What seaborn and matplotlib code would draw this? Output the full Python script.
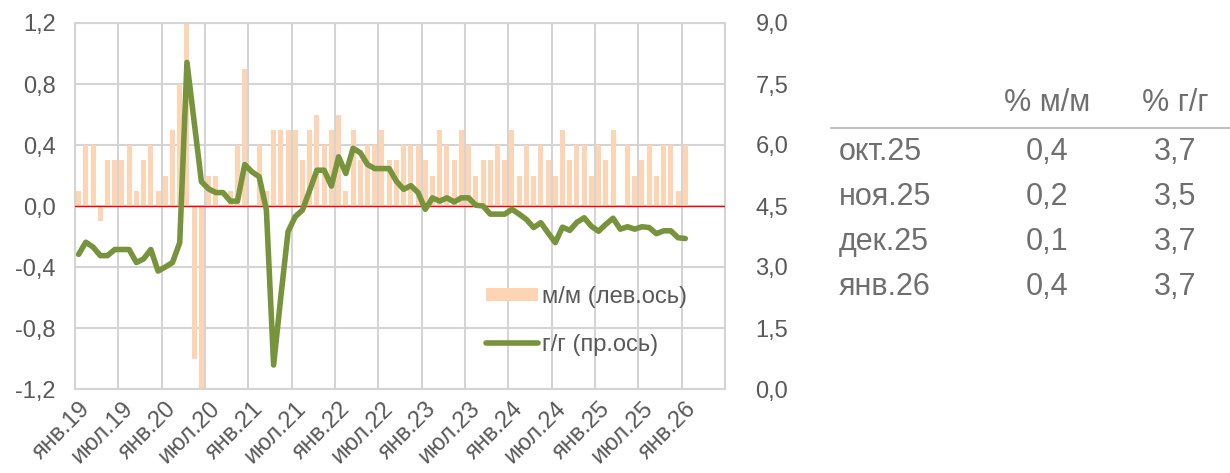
import numpy as np
import pandas as pd
import seaborn as sns
import matplotlib.pyplot as plt
from matplotlib.lines import Line2D
from matplotlib.patches import Patch
from matplotlib.ticker import FuncFormatter

# month names for the category axis (Jan 2019 .. Jun 2026, data ends Jan 2026)
month_names = ["янв", "фев", "мар", "апр", "май", "июн",
               "июл", "авг", "сен", "окт", "ноя", "дек"]
years = [19, 20, 21, 22, 23, 24, 25, 26]
categories = [f"{m}.{y}" for y in years for m in month_names][:90]

# m/m, % (left axis)
mm = [0.1, 0.4, 0.4, -0.1, 0.3, 0.3, 0.3, 0.4, 0.1, 0.3, 0.4, 0.1,
      0.2, 0.5, 0.8, 1.2, -1.0, -1.2, 0.2, 0.2, 0.0, 0.1, 0.4, 0.9,
      0.0, 0.4, 0.1, 0.5, 0.5, 0.5, 0.5, 0.3, 0.5, 0.6, 0.4, 0.5,
      0.6, 0.1, 0.5, 0.3, 0.4, 0.4, 0.5, 0.3, 0.3, 0.4, 0.4, 0.4,
      0.3, 0.2, 0.5, 0.4, 0.3, 0.5, 0.4, 0.2, 0.3, 0.3, 0.4, 0.3,
      0.5, 0.2, 0.4, 0.2, 0.4, 0.3, 0.2, 0.5, 0.3, 0.4, 0.4, 0.2,
      0.4, 0.3, 0.5, 0.0, 0.4, 0.2, 0.3, 0.4, 0.2, 0.4, 0.4, 0.1,
      0.4]

# y/y, % (right axis)
yy = [3.31, 3.61, 3.49, 3.28, 3.28, 3.43, 3.43, 3.43, 3.11, 3.20, 3.43, 2.90,
      3.00, 3.11, 3.60, 8.03, 6.57, 5.10, 4.92, 4.83, 4.83, 4.62, 4.62, 5.52,
      5.34, 5.22, 4.40, 0.59, 2.27, 3.87, 4.24, 4.40, 4.89, 5.38, 5.38, 4.99,
      5.71, 5.30, 5.92, 5.81, 5.52, 5.42, 5.42, 5.42, 5.11, 4.91, 5.00, 4.83,
      4.42, 4.70, 4.62, 4.70, 4.60, 4.70, 4.70, 4.52, 4.50, 4.30, 4.30, 4.30,
      4.42, 4.30, 4.17, 3.97, 4.09, 3.84, 3.60, 3.98, 3.90, 4.10, 4.21, 4.00,
      3.88, 4.05, 4.20, 3.93, 3.99, 3.93, 3.99, 3.97, 3.82, 3.89, 3.89, 3.72,
      3.70]

# table at the right
table_rows = ["окт.25", "ноя.25", "дек.25", "янв.26"]
table_mm = ["0,4", "0,2", "0,1", "0,4"]
table_yy = ["3,7", "3,5", "3,7", "3,7"]

sns.set_style("white")
plt.rcParams["font.family"] = ["Liberation Sans", "DejaVu Sans"]

text_col = "#595959"
grid_col = "#d4d4d4"
bar_col = "#fdd5b4"
line_col = "#77933c"
fs = 17

fig = plt.figure(figsize=(12.3, 4.73), dpi=100)
W, H = 1230, 473
ax = fig.add_axes([75 / W, 1 - 389 / H, 650 / W, 366 / H])

df_bar = pd.DataFrame({"month": categories[:len(mm)], "mm": mm})
sns.barplot(data=df_bar, x="month", y="mm", order=categories, color=bar_col,
            saturation=1, width=0.7, ax=ax, zorder=2)
for p in ax.patches:
    p.set_edgecolor("none")

ax.set_xlim(-0.5, 89.5)
ax.set_ylim(-1.2, 1.2)
ax.set_yticks(np.arange(-1.2, 1.21, 0.4))
ax.yaxis.set_major_formatter(FuncFormatter(lambda v, _: f"{v:.1f}".replace(".", ",").replace("-0,0", "0,0")))
ax.set_xticks(range(0, 90, 6))
ax.set_xticklabels(categories[::6], rotation=45, ha="right", rotation_mode="anchor")
ax.set_xticks(np.arange(-0.5, 90, 6), minor=True)
ax.grid(False)
ax.grid(True, axis="y", which="major", color=grid_col, lw=1.5, zorder=0)
ax.grid(True, axis="x", which="minor", color=grid_col, lw=1.5, zorder=0)
ax.set_axisbelow(True)
ax.axhline(0, color="#ff0000", lw=1, zorder=3)
ax.set_xlabel("")
ax.set_ylabel("")
ax.tick_params(axis="both", which="both", length=0, labelsize=fs, colors=text_col)
ax.tick_params(axis="y", pad=14)
ax.tick_params(axis="x", pad=6)
for s in ax.spines.values():
    s.set_color(grid_col)
    s.set_linewidth(1.5)

ax2 = ax.twinx()
sns.lineplot(x=np.arange(len(yy)), y=yy, color=line_col, lw=4, ax=ax2, zorder=4,
             solid_capstyle="round", solid_joinstyle="round")
ax2.set_ylim(0, 9)
ax2.set_yticks(np.arange(0, 9.01, 1.5))
ax2.yaxis.set_major_formatter(FuncFormatter(lambda v, _: f"{v:.1f}".replace(".", ",")))
ax2.tick_params(axis="y", length=0, labelsize=fs, colors=text_col, pad=22)
ax2.set_xlim(-0.5, 89.5)
ax2.set_ylabel("")
for s in ax2.spines.values():
    s.set_visible(False)

handles = [Patch(facecolor=bar_col, edgecolor="none"),
           Line2D([0], [0], color=line_col, lw=4, solid_capstyle="round")]
leg = ax2.legend(handles, ["м/м (лев.ось)", "г/г (пр.ось)"], loc="upper left",
                 bbox_to_anchor=(0.6, 0.34), frameon=False, fontsize=fs,
                 handlelength=2.2, handleheight=0.5, labelspacing=1.1, handletextpad=0.15)
for t in leg.get_texts():
    t.set_color(text_col)

# table
tcol = "#6f6f6f"
tfs = 22


def fy(y):
    return 1 - y / H


fig.text(1047 / W, fy(103), "% м/м", ha="center", va="center", fontsize=tfs, color=tcol)
fig.text(1175 / W, fy(103), "% г/г", ha="center", va="center", fontsize=tfs, color=tcol)
fig.add_artist(Line2D([831 / W, 1.0], [fy(128), fy(128)], color="#bfbfbf", lw=1.5))
for i, (r, a, b) in enumerate(zip(table_rows, table_mm, table_yy)):
    y = fy(152 + 45 * i)
    fig.text(839 / W, y, r, ha="left", va="center", fontsize=tfs, color=tcol)
    fig.text(1047 / W, y, a, ha="center", va="center", fontsize=tfs, color=tcol)
    fig.text(1175 / W, y, b, ha="center", va="center", fontsize=tfs, color=tcol)

fig.savefig("out.png", dpi=100)
